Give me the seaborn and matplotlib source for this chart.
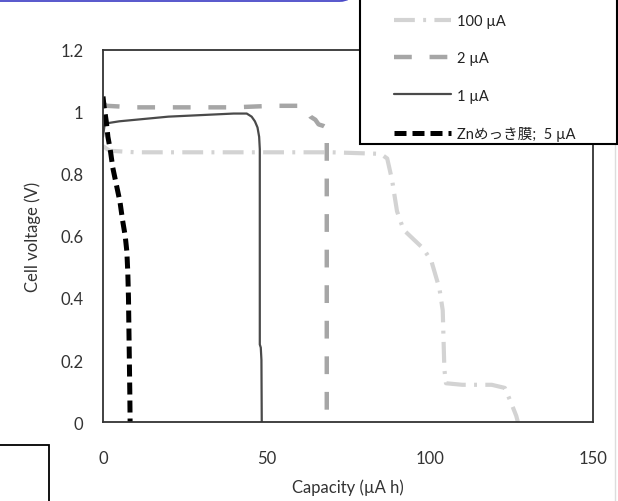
import numpy as np
import pandas as pd
import matplotlib.pyplot as plt
import seaborn as sns
from matplotlib.patches import Rectangle, FancyBboxPatch
from matplotlib.lines import Line2D
from matplotlib.ticker import MultipleLocator, FuncFormatter

# discharge curves
cap_100 = [0, 2, 10, 30, 50, 70, 85, 87, 88.5, 90, 92, 98, 100.5, 103, 104, 104.5, 105, 110, 119, 123, 125, 126.5, 127]
v_100 = [0.89, 0.875, 0.87, 0.87, 0.87, 0.87, 0.865, 0.85, 0.78, 0.68, 0.62, 0.56, 0.52, 0.43, 0.36, 0.17, 0.125, 0.12, 0.12, 0.11, 0.06, 0.02, 0.0]

cap_2 = [0, 1, 10, 25, 40, 52, 55, 60, 62, 63.5, 65, 66, 67.5, 68.3, 68.5, 68.5]
v_2 = [1.03, 1.02, 1.015, 1.015, 1.015, 1.02, 1.02, 1.02, 1.01, 0.985, 0.975, 0.96, 0.955, 0.95, 0.9, 0.0]

cap_1 = [0, 0.5, 2, 5, 10, 20, 30, 40, 44, 45.5, 46.5, 47.3, 47.8, 48, 48, 48.3, 48.5, 48.6]
v_1 = [0.92, 0.96, 0.965, 0.97, 0.975, 0.985, 0.99, 0.995, 0.995, 0.985, 0.97, 0.95, 0.92, 0.88, 0.25, 0.24, 0.2, 0.0]

cap_zn = [0, 0.3, 1, 1.5, 2.2, 3, 4, 5.2, 6, 6.8, 7.3, 7.6, 7.8, 8, 8.2, 8.3]
v_zn = [1.05, 1.02, 0.97, 0.92, 0.88, 0.82, 0.77, 0.71, 0.65, 0.6, 0.55, 0.48, 0.4, 0.25, 0.1, 0.0]

labels = ['100 µA', '2 µA', '1 µA', 'Znめっき膜;  5 µA']

sns.set_style('white')
plt.rcParams['font.family'] = ['Lato', 'Noto Sans CJK JP', 'DejaVu Sans']

fig = plt.figure(figsize=(6.18, 5.02), dpi=100)
ax = fig.add_axes([103 / 618, 1 - 423 / 502, 490 / 618, 372 / 502])

# 100 uA
sns.lineplot(x=cap_100, y=v_100, sort=False, estimator=None, color='#d3d3d3', lw=3, ax=ax)
ax.lines[-1].set_dashes((5, 2, 0.7, 2))
# 2 uA
sns.lineplot(x=cap_2, y=v_2, sort=False, estimator=None, color='#a6a6a6', lw=3.2, ax=ax)
ax.lines[-1].set_dashes((4, 4))
# 1 uA
sns.lineplot(x=cap_1, y=v_1, sort=False, estimator=None, color='#4a4a4a', lw=1.6, ax=ax)
# Zn plated film, 5 uA
sns.lineplot(x=cap_zn, y=v_zn, sort=False, estimator=None, color='black', lw=3.6, ax=ax)
ax.lines[-1].set_dashes((2.4, 1.2))

ax.set_xlim(0, 150)
ax.set_ylim(0, 1.2)
ax.xaxis.set_major_locator(MultipleLocator(50))
ax.xaxis.set_minor_locator(MultipleLocator(10))
ax.yaxis.set_major_locator(MultipleLocator(0.2))
ax.yaxis.set_minor_locator(MultipleLocator(0.1))
ax.yaxis.set_major_formatter(FuncFormatter(lambda v, p: '{:g}'.format(round(v, 2))))
ax.tick_params(which='both', direction='in', length=4, width=1, color='#222222',
               labelsize=12, labelcolor='#333333')
ax.tick_params(axis='y', which='major', pad=14)
ax.tick_params(axis='x', which='major', pad=20)
for s in ax.spines.values():
    s.set_color('#333333')
    s.set_linewidth(1.3)

ax.set_xlabel('Capacity (µA h)', fontsize=12, color='#333333', labelpad=9)
ax.set_ylabel('Cell voltage (V)', fontsize=12, color='#333333', labelpad=14)

# legend box (top cut off in the picture)
fig.patches.append(Rectangle((360 / 618, 1 - 145 / 502), 257 / 618, 0.4,
                             transform=fig.transFigure, facecolor='white',
                             edgecolor='black', lw=1.5, zorder=3))
handles = ax.lines[:4]
leg = fig.legend(handles, labels, loc='upper left', bbox_to_anchor=(388 / 618, 1 - 9 / 502),
                 frameon=False, fontsize=10.5, handlelength=3.9, handletextpad=0.4,
                 labelspacing=1.6, borderaxespad=0)
leg.set_zorder(5)
for t in leg.get_texts():
    t.set_color('#222222')

# fragments of neighbouring boxes
fig.patches.append(FancyBboxPatch((-20 / 618, 1 - 2 / 502), 372 / 618, 0.1,
                                  boxstyle='round,pad=0,rounding_size=0.02',
                                  transform=fig.transFigure, facecolor='none',
                                  edgecolor='#4a4ac8', lw=1.3, zorder=3))
fig.patches.append(Rectangle((-10 / 618, -0.1), 59 / 618, 0.1 + 56 / 502,
                             transform=fig.transFigure, facecolor='none',
                             edgecolor='black', lw=1.3, zorder=3))
fig.lines.append(Line2D([615 / 618, 615 / 618], [0, 1 - 145 / 502],
                        transform=fig.transFigure, color='#dddddd', lw=1))

fig.savefig('out.png', dpi=100)
